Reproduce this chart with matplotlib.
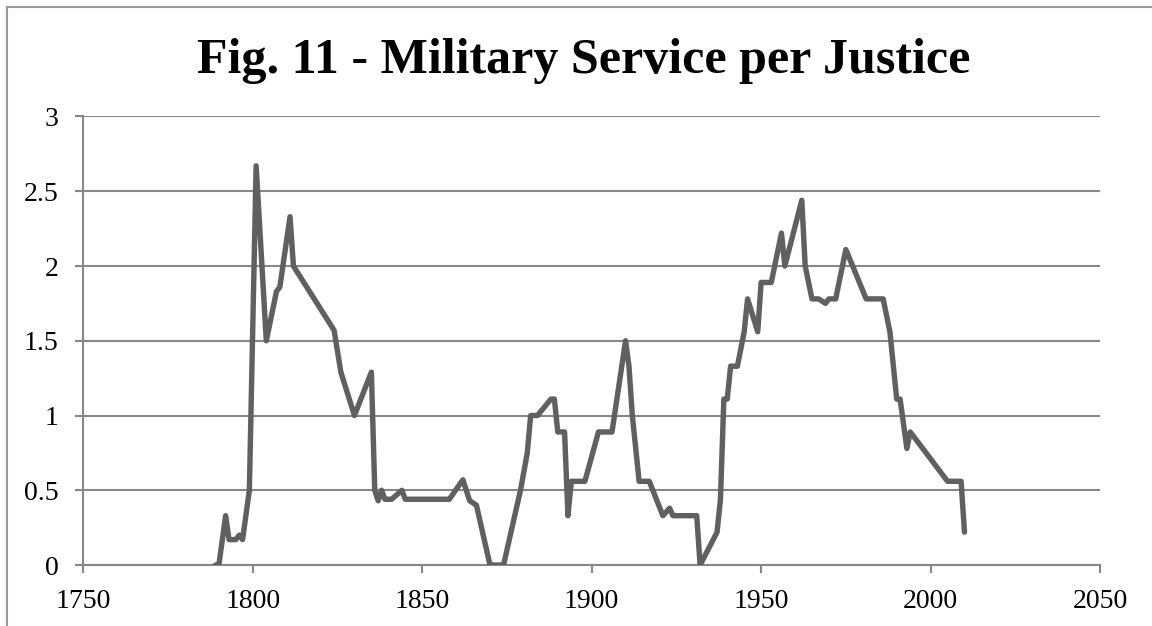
import matplotlib
matplotlib.use('Agg')
import matplotlib.pyplot as plt
from matplotlib.lines import Line2D

# military service per justice
years = [1789, 1790, 1792, 1793, 1795, 1796, 1797, 1799, 1801, 1804,
         1807, 1808, 1811, 1812, 1824, 1826, 1830, 1835, 1836, 1837,
         1838, 1839, 1841, 1844, 1845, 1858, 1862, 1864, 1866, 1870,
         1874, 1879, 1881, 1882, 1884, 1888, 1889, 1890, 1892, 1893,
         1894, 1898, 1902, 1906, 1910, 1911, 1912, 1914, 1917, 1921,
         1923, 1924, 1931, 1932, 1937, 1938, 1939, 1940, 1941, 1943,
         1945, 1946, 1949, 1950, 1953, 1956, 1957, 1962, 1963, 1965,
         1967, 1969, 1970, 1972, 1975, 1981, 1986, 1988, 1990, 1991,
         1993, 1994, 2005, 2009, 2010]
service = [0, 0, 0.33, 0.17, 0.17, 0.2, 0.17, 0.5, 2.67, 1.5,
           1.83, 1.86, 2.33, 2.0, 1.57, 1.29, 1.0, 1.29, 0.5, 0.43,
           0.5, 0.44, 0.44, 0.5, 0.44, 0.44, 0.57, 0.43, 0.4, 0,
           0, 0.5, 0.75, 1.0, 1.0, 1.11, 1.11, 0.89, 0.89, 0.33,
           0.56, 0.56, 0.89, 0.89, 1.5, 1.33, 1.0, 0.56, 0.56, 0.33,
           0.38, 0.33, 0.33, 0, 0.22, 0.44, 1.11, 1.11, 1.33, 1.33,
           1.56, 1.78, 1.56, 1.89, 1.89, 2.22, 2.0, 2.44, 2.0, 1.78,
           1.78, 1.75, 1.78, 1.78, 2.11, 1.78, 1.78, 1.56, 1.11, 1.11,
           0.78, 0.89, 0.56, 0.56, 0.22]

x_ticks = [1750, 1800, 1850, 1900, 1950, 2000, 2050]
y_ticks = [0, 0.5, 1, 1.5, 2, 2.5, 3]
y_labels = ['0', '0.5', '1', '1.5', '2', '2.5', '3']

grid_col = '#878787'
line_col = '#606060'
font = 'Liberation Serif'

fig = plt.figure(figsize=(11.52, 6.26), dpi=100)
ax = fig.add_axes([0.0723, 0.0974, 0.8826, 0.7165])

ax.plot(years, service, color=line_col, lw=3.9,
        solid_capstyle='round', solid_joinstyle='round', zorder=3)

ax.set_xlim(1750, 2050)
ax.set_ylim(0, 3)
ax.set_xticks(x_ticks)
ax.set_yticks(y_ticks)
ax.set_yticklabels(y_labels)
ax.yaxis.grid(True, color=grid_col, lw=1.5)
ax.set_axisbelow(True)

for s in ['top', 'right']:
    ax.spines[s].set_visible(False)
for s in ['left', 'bottom']:
    ax.spines[s].set_color(grid_col)
    ax.spines[s].set_linewidth(1.5)

ax.tick_params(axis='both', direction='out', length=6, width=1.5,
               color=grid_col, labelsize=20)
ax.tick_params(axis='x', pad=11)
ax.tick_params(axis='y', pad=12)
for lab in ax.get_xticklabels() + ax.get_yticklabels():
    lab.set_fontfamily(font)

fig.text(0.507, 1 - 73 / 626, 'Fig. 11 - Military Service per Justice',
         ha='center', va='baseline', fontsize=36, fontweight='bold',
         family=font)

# chart area border (only left and top edges show in the original)
fig.add_artist(Line2D([0.0065, 0.0065], [0, 0.989], color='#9a9a9a',
                      lw=1.5, transform=fig.transFigure))
fig.add_artist(Line2D([0.0065, 1], [0.989, 0.989], color='#9a9a9a',
                      lw=1.5, transform=fig.transFigure))

fig.savefig('out.png', dpi=100)
